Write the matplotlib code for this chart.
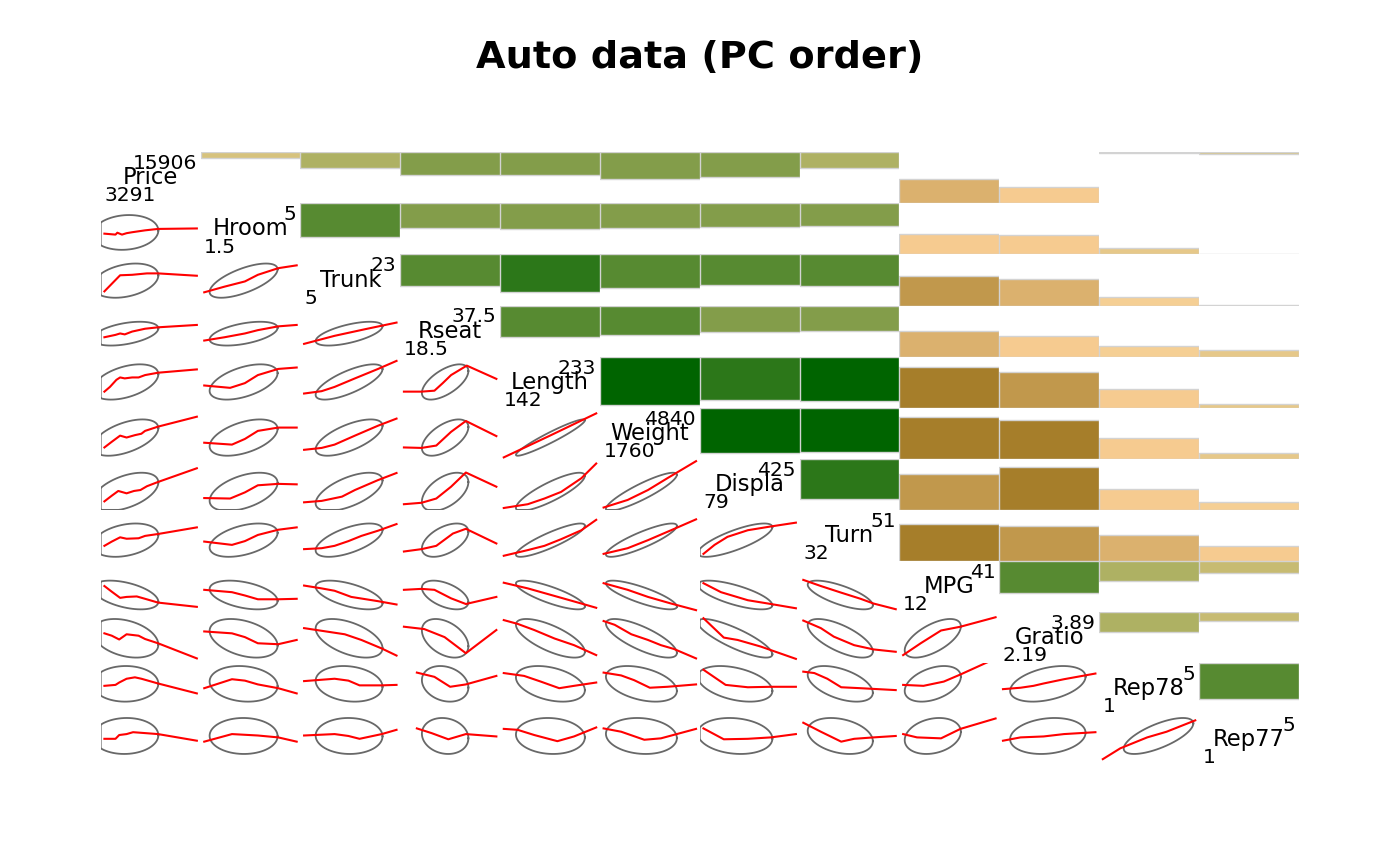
import numpy as np
import matplotlib
matplotlib.use("Agg")
import matplotlib.pyplot as plt
from matplotlib.patches import Rectangle
from matplotlib.colors import to_rgb

# ---------------- data ----------------
TITLE = "Auto data (PC order)"
VARS = ["Price", "Hroom", "Trunk", "Rseat", "Length", "Weight",
        "Displa", "Turn", "MPG", "Gratio", "Rep78", "Rep77"]
VMIN = [3291, 1.5, 5, 18.5, 142, 1760, 79, 32, 12, 2.19, 1, 1]
VMAX = [15906, 5, 23, 37.5, 233, 4840, 425, 51, 41, 3.89, 5, 5]
VMIN_LABEL = ["3291", "1.5", "5", "18.5", "142", "1760", "79", "32", "12", "2.19", "1", "1"]
VMAX_LABEL = ["15906", "5", "23", "37.5", "233", "4840", "425", "51", "41", "3.89", "5", "5"]
VMEAN = [6165, 2.99, 13.76, 26.97, 187.9, 3019, 197.3, 39.6, 21.3, 3.015, 3.41, 3.32]
VSD = [2949, 0.846, 4.28, 3.14, 22.3, 777, 91.8, 4.4, 5.79, 0.456, 0.99, 1.0]

# upper triangle of the correlation matrix, row by row
CORR_ROWS = [
    [0.11, 0.31, 0.44, 0.44, 0.52, 0.49, 0.31, -0.47, -0.33, 0.01, 0.04],
    [0.66, 0.49, 0.50, 0.48, 0.47, 0.44, -0.41, -0.38, -0.13, -0.01],
    [0.62, 0.73, 0.65, 0.60, 0.61, -0.58, -0.51, -0.17, -0.02],
    [0.62, 0.58, 0.51, 0.50, -0.50, -0.41, -0.21, -0.13],
    [0.95, 0.84, 0.87, -0.80, -0.70, -0.36, -0.08],
    [0.89, 0.86, -0.81, -0.76, -0.40, -0.12],
    [0.78, -0.71, -0.83, -0.40, -0.15],
    [-0.72, -0.68, -0.50, -0.29],
    [0.62, 0.40, 0.23],
    [0.40, 0.18],
    [0.70],
]

# smoothed (lowess) curves, (row var, col var): x and y as fractions of each variable's min-max range
SMOOTH = {
    ("Hroom", "Price"): ([0, .12, .14, .19, .24, .30, .44, .58, 1], [.40, .38, .42, .38, .41, .43, .47, .50, .51]),
    ("Trunk", "Price"): ([0, .17, .30, .46, .58, 1], [.26, .60, .61, .64, .64, .59]),
    ("Trunk", "Hroom"): ([0, .22, .44, .58, .80, 1], [.24, .36, .47, .61, .75, .81]),
    ("Rseat", "Price"): ([0, .12, .17, .22, .30, .44, .58, 1], [.37, .42, .45, .43, .49, .55, .58, .63]),
    ("Rseat", "Hroom"): ([0, .22, .44, .58, .80, 1], [.30, .37, .45, .52, .60, .63]),
    ("Rseat", "Trunk"): ([0, .33, .66, 1], [.23, .40, .54, .68]),
    ("Length", "Price"): ([0, .06, .13, .17, .22, .30, .37, .44, .58, 1], [.30, .40, .55, .60, .58, .60, .60, .65, .70, .77]),
    ("Length", "Hroom"): ([0, .28, .44, .58, .80, 1], [.43, .38, .48, .65, .78, .81]),
    ("Length", "Trunk"): ([0, .19, .33, .55, .80, 1], [.26, .31, .40, .58, .78, .95]),
    ("Length", "Rseat"): ([0, .19, .33, .42, .51, .68, 1], [.30, .30, .32, .48, .65, .85, .57]),
    ("Weight", "Price"): ([0, .08, .17, .24, .33, .40, .44, .58, 1], [.20, .32, .45, .41, .46, .49, .55, .64, .85]),
    ("Weight", "Hroom"): ([0, .30, .44, .58, .80, 1], [.30, .26, .38, .55, .62, .62]),
    ("Weight", "Trunk"): ([0, .19, .33, .55, .80, 1], [.15, .19, .26, .45, .66, .81]),
    ("Weight", "Rseat"): ([0, .19, .35, .51, .67, 1], [.20, .19, .24, .53, .76, .44]),
    ("Weight", "Length"): ([0, .5, 1], [-.01, .45, .92]),
    ("Displa", "Price"): ([0, .08, .15, .24, .32, .39, .46, .58, 1], [.14, .26, .36, .31, .36, .38, .46, .55, .84]),
    ("Displa", "Hroom"): ([0, .28, .44, .58, .80, 1], [.21, .20, .33, .48, .51, .50]),
    ("Displa", "Trunk"): ([0, .19, .41, .55, .80, 1], [.12, .15, .24, .38, .59, .74]),
    ("Displa", "Rseat"): ([0, .19, .35, .51, .67, 1], [.08, .11, .20, .45, .75, .45]),
    ("Displa", "Length"): ([0, .26, .44, .62, .84, 1], [0, .08, .20, .34, .63, .94]),
    ("Displa", "Weight"): ([0, .26, .48, .69, 1], [.01, .17, .38, .63, .99]),
    ("Turn", "Price"): ([0, .08, .17, .24, .37, .44, .58, 1], [.28, .37, .46, .43, .44, .49, .53, .67]),
    ("Turn", "Hroom"): ([0, .30, .44, .58, .80, 1], [.37, .30, .38, .51, .62, .67]),
    ("Turn", "Trunk"): ([0, .19, .33, .48, .62, .80, 1], [.21, .23, .28, .38, .49, .60, .74]),
    ("Turn", "Rseat"): ([0, .19, .35, .53, .67, 1], [.16, .21, .28, .54, .64, .33]),
    ("Turn", "Length"): ([0, .26, .44, .62, .84, 1], [.07, .19, .28, .42, .61, .83]),
    ("Turn", "Weight"): ([0, .26, .48, .73, 1], [.11, .23, .40, .61, .84]),
    ("Turn", "Displa"): ([0, .12, .26, .48, .73, 1], [.11, .30, .47, .61, .69, .77]),
    ("MPG", "Price"): ([0, .08, .17, .24, .35, .44, .58, 1], [.51, .39, .26, .28, .29, .24, .16, .07]),
    ("MPG", "Hroom"): ([0, .30, .44, .58, .80, 1], [.43, .38, .31, .23, .23, .24]),
    ("MPG", "Trunk"): ([0, .19, .33, .51, .80, 1], [.52, .46, .41, .28, .19, .12]),
    ("MPG", "Rseat"): ([0, .19, .33, .51, .67, 1], [.43, .45, .43, .25, .13, .28]),
    ("MPG", "Length"): ([0, .26, .55, .84, 1], [.58, .46, .30, .14, .05]),
    ("MPG", "Weight"): ([0, .26, .48, .73, 1], [.57, .43, .28, .14, 0]),
    ("MPG", "Displa"): ([0, .19, .48, .73, 1], [.57, .38, .21, .13, .04]),
    ("MPG", "Turn"): ([0, .19, .41, .62, .76, 1], [.64, .51, .37, .24, .14, .02]),
    ("Gratio", "Price"): ([0, .08, .16, .24, .37, .44, .58, 1], [.59, .54, .46, .57, .54, .47, .38, .06]),
    ("Gratio", "Hroom"): ([0, .30, .44, .58, .80, 1], [.63, .59, .51, .38, .36, .45]),
    ("Gratio", "Trunk"): ([0, .44, .62, .84, 1], [.70, .57, .45, .27, .12]),
    ("Gratio", "Rseat"): ([0, .22, .44, .67, 1], [.73, .68, .51, .17, .66]),
    ("Gratio", "Length"): ([0, .15, .33, .55, .76, 1], [.87, .79, .66, .48, .34, .13]),
    ("Gratio", "Weight"): ([0, .12, .30, .48, .62, .76, 1], [.85, .77, .57, .45, .34, .26, .06]),
    ("Gratio", "Displa"): ([0, .22, .37, .62, 1], [.91, .50, .45, .31, .05]),
    ("Gratio", "Turn"): ([0, .19, .33, .55, .76, 1], [.86, .70, .52, .34, .25, .20]),
    ("Gratio", "MPG"): ([0, .19, .41, .62, 1], [.13, .38, .65, .73, .93]),
    ("Rep78", "Price"): ([0, .12, .16, .24, .33, .40, .58, 1], [.56, .58, .63, .71, .74, .71, .61, .40]),
    ("Rep78", "Hroom"): ([0, .30, .44, .58, .80, 1], [.51, .70, .67, .59, .51, .40]),
    ("Rep78", "Trunk"): ([0, .33, .48, .60, .84, 1], [.66, .71, .67, .57, .57, .58]),
    ("Rep78", "Rseat"): ([.14, .33, .50, .67, 1], [.84, .75, .54, .59, .77]),
    ("Rep78", "Length"): ([0, .22, .40, .60, .76, 1], [.83, .77, .65, .51, .56, .63]),
    ("Rep78", "Weight"): ([0, .19, .33, .50, .69, 1], [.84, .78, .68, .52, .54, .59]),
    ("Rep78", "Displa"): ([0, .24, .48, .73, 1], [.90, .58, .53, .54, .54]),
    ("Rep78", "Turn"): ([0, .12, .26, .41, .62, 1], [.86, .83, .71, .53, .51, .47]),
    ("Rep78", "MPG"): ([0, .22, .44, .62, .89, 1], [.58, .56, .65, .80, 1.04, 1.13]),
    ("Rep78", "Gratio"): ([0, .19, .33, .44, .66, 1], [.49, .52, .56, .61, .70, .82]),
    ("Rep77", "Price"): ([0, .12, .16, .24, .31, .58, 1], [.52, .52, .60, .62, .66, .62, .48]),
    ("Rep77", "Hroom"): ([0, .30, .58, .80, 1], [.46, .62, .59, .55, .46]),
    ("Rep77", "Trunk"): ([0, .33, .48, .60, .84, 1], [.59, .62, .58, .52, .62, .71]),
    ("Rep77", "Rseat"): ([.14, .30, .48, .67, 1], [.74, .64, .51, .62, .57]),
    ("Rep77", "Length"): ([0, .15, .33, .58, .76, 1], [.73, .71, .60, .47, .57, .76]),
    ("Rep77", "Weight"): ([0, .19, .44, .62, 1], [.74, .67, .50, .53, .73]),
    ("Rep77", "Displa"): ([0, .22, .48, .73, 1], [.74, .51, .52, .55, .62]),
    ("Rep77", "Turn"): ([0, .19, .41, .55, .76, 1], [.86, .67, .46, .52, .55, .58]),
    ("Rep77", "MPG"): ([0, .15, .41, .62, 1], [.62, .55, .53, .73, .95]),
    ("Rep77", "Gratio"): ([0, .19, .44, .66, 1], [.48, .55, .57, .62, .66]),
    ("Rep77", "Rep78"): ([0, .19, .48, .69, 1], [.09, .32, .55, .67, .91]),
}

# ---------------- styling ----------------
RAMP_ANCHORS = ["#8B6508", "#FFD39B", "#BDB76B", "#006400"]  # darkgoldenrod4, burlywood1, darkkhaki, darkgreen
N_COL = 14


def ramp(n):
    cols = np.array([to_rgb(c) for c in RAMP_ANCHORS])
    t = np.linspace(0, len(cols) - 1, n)
    out = []
    for v in t:
        k = min(int(np.floor(v)), len(cols) - 2)
        f = v - k
        out.append(tuple(cols[k] * (1 - f) + cols[k + 1] * f))
    return out


PAL = ramp(N_COL)


def color_for(r):
    idx = int(np.ceil((r + 1) / (2.0 / N_COL) - 1e-9)) - 1
    return PAL[max(0, min(N_COL - 1, idx))]


n = len(VARS)
corr = np.eye(n)
for i, row in enumerate(CORR_ROWS):
    for k, v in enumerate(row):
        j = i + 1 + k
        corr[i, j] = v
        corr[j, i] = v

# 68% data ellipse radius: sqrt(2 * qf(.68, 2, 73))
d2 = 73
qf68 = d2 / 2.0 * (0.32 ** (-2.0 / d2) - 1)
RAD = np.sqrt(2 * qf68)

W, H = 1400, 866
X0, X1 = 100.7, 1298.8
Y0, Y1 = 152.3, 765.3
cw = (X1 - X0) / n
ch = (Y1 - Y0) / n
PAD = 0.04

fig = plt.figure(figsize=(W / 100, H / 100), dpi=100)
fig.patch.set_facecolor("white")

fig.text(0.5, 1 - 58 / H, TITLE, ha="center", va="center",
         fontsize=27.5, fontweight="bold", family="DejaVu Sans")


def cell_ax(i, j):
    left = (X0 + j * cw) / W
    bottom = 1 - (Y0 + (i + 1) * ch) / H
    ax = fig.add_axes([left, bottom, cw / W, ch / H])
    ax.set_xlim(-PAD, 1 + PAD)
    ax.set_ylim(-PAD, 1 + PAD)
    ax.axis("off")
    return ax


frac_mean = [(m - lo) / (hi - lo) for m, lo, hi in zip(VMEAN, VMIN, VMAX)]
frac_sd = [s / (hi - lo) for s, lo, hi in zip(VSD, VMIN, VMAX)]
ang = np.linspace(0, 2 * np.pi, 75)

for i in range(n):
    for j in range(n):
        ax = cell_ax(i, j)
        if i == j:
            ax.text(0.5, 0.5, VARS[i], ha="center", va="center", fontsize=16.3, clip_on=False)
            ax.text(0, 0, VMIN_LABEL[i], ha="left", va="baseline", fontsize=14.6, clip_on=False)
            ax.text(1, 1, VMAX_LABEL[i], ha="right", va="top", fontsize=14.6, clip_on=False)
        elif j > i:
            r = corr[i, j]
            h = abs(r) * (1 + 2 * PAD)
            y0 = (1 + PAD - h) if r > 0 else -PAD
            ax.add_patch(Rectangle((-PAD, y0), 1 + 2 * PAD, h, facecolor=color_for(r),
                                   edgecolor="#D3D3D3", linewidth=1.0))
        else:
            r = corr[i, j]
            mx, sx = frac_mean[j], frac_sd[j]
            my, sy = frac_mean[i], frac_sd[i]
            ex = mx + RAD * sx * np.cos(ang)
            ey = my + RAD * sy * (r * np.cos(ang) + np.sqrt(1 - r * r) * np.sin(ang))
            ex = np.clip(ex, -PAD, 1 + PAD)
            ey = np.clip(ey, -PAD, 1 + PAD)
            ax.plot(ex, ey, color="#4D4D4D", linewidth=1.3, alpha=0.85)
            sx_, sy_ = SMOOTH[(VARS[i], VARS[j])]
            ax.plot(sx_, sy_, color="red", linewidth=1.5)

fig.savefig("out.png", dpi=100, facecolor="white")
